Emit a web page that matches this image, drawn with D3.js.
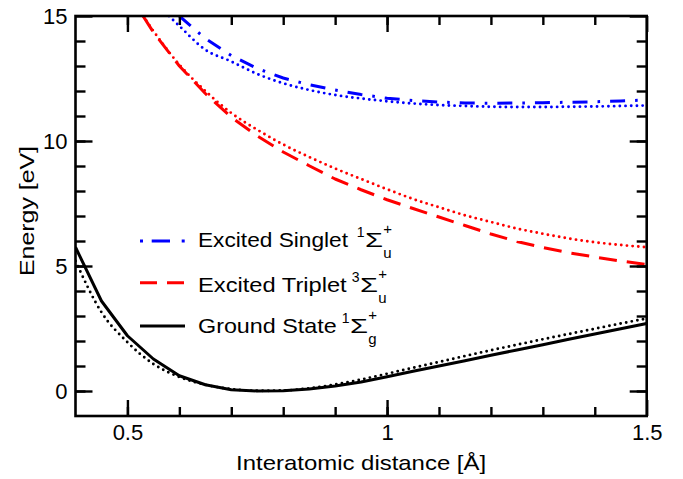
<!DOCTYPE html>
<html>
<head>
<meta charset="utf-8">
<script src="https://cdnjs.cloudflare.com/ajax/libs/d3/7.8.5/d3.min.js"></script>
<style>
  html, body { margin: 0; padding: 0; background: #fff; }
  svg { display: block; font-family: "Liberation Sans", Arial, Helvetica, sans-serif; }
</style>
</head>
<body>
<svg id="chart" width="683" height="479"></svg>
<script>
// ---------------- data ----------------
const groundX      = [0.40,0.45,0.50,0.55,0.60,0.65,0.70,0.75,0.80,0.85,0.90,0.95,1.00,1.05,1.10,1.15,1.20,1.25,1.30,1.35,1.40,1.45,1.50];
const groundSolid  = [5.75,3.60,2.21,1.28,0.61,0.25,0.05,0.00,0.01,0.08,0.20,0.36,0.57,0.79,1.00,1.21,1.43,1.64,1.85,2.07,2.28,2.49,2.70];
const groundDotted = [5.20,3.15,1.95,1.08,0.56,0.25,0.08,0.01,0.02,0.11,0.26,0.46,0.69,0.93,1.16,1.40,1.63,1.85,2.07,2.28,2.49,2.70,2.90];

const tripletX      = [0.53,0.55,0.60,0.65,0.70,0.75,0.80,0.85,0.90,0.95,1.00,1.05,1.10,1.15,1.20,1.25,1.30,1.35,1.40,1.45,1.50];
const tripletDashed = [15.0,14.35,13.00,11.90,10.95,10.20,9.56,9.01,8.48,8.05,7.65,7.30,6.96,6.62,6.28,5.98,5.74,5.53,5.36,5.20,5.06];
const tripletDotted = [15.0,14.40,13.05,12.00,11.12,10.45,9.86,9.36,8.90,8.48,8.07,7.68,7.35,7.03,6.76,6.50,6.29,6.10,5.95,5.84,5.75];

const singletDashX   = [0.60,0.65,0.70,0.75,0.80,0.85,0.90,0.95,1.00,1.05,1.10,1.15,1.20,1.25,1.30,1.35,1.40,1.45,1.50];
const singletDashDot = [15.0,14.10,13.42,12.90,12.52,12.25,12.04,11.86,11.71,11.62,11.56,11.52,11.51,11.52,11.53,11.55,11.57,11.60,11.64];
const singletDotX    = [0.58,0.60,0.65,0.70,0.75,0.80,0.85,0.90,0.95,1.00,1.05,1.10,1.15,1.20,1.25,1.30,1.35,1.40,1.45,1.50];
const singletDotted  = [15.0,14.60,13.65,13.18,12.68,12.31,12.04,11.84,11.70,11.59,11.50,11.44,11.40,11.37,11.36,11.36,11.37,11.38,11.40,11.42];

const xMajorTicks = [0.5, 1.0, 1.5];
const xMinorTicks = [0.5,0.6,0.7,0.8,0.9,1.0,1.1,1.2,1.3,1.4];
const yMajorTicks = [0, 5, 10, 15];
const yMinorTicks = [0,1,2,3,4,5,6,7,8,9,10,11,12,13,14];
const xTickLabels = ["0.5", "1", "1.5"];
const yTickLabels = ["0", "5", "10", "15"];

const legendLabels = [
  {main: "Excited Singlet", sup: "1", sub: "u", color: "#0000ff", style: "dashdot"},
  {main: "Excited Triplet", sup: "3", sub: "u", color: "#ff0000", style: "dashed"},
  {main: "Ground State",    sup: "1", sub: "g", color: "#000000", style: "solid"}
];

// ---------------- layout ----------------
const svg = d3.select("#chart");
const L = 75.5, R = 646.7, T = 16, B = 416;
const x = d3.scaleLinear().domain([0.4, 1.5]).range([L, R]);
const y = d3.scaleLinear().domain([-1, 15]).range([B, T]);

svg.append("defs").append("clipPath").attr("id", "plotclip")
  .append("rect").attr("x", L).attr("y", T).attr("width", R - L).attr("height", B - T);

const styles = {
  solid:   {w: 3, dash: null, cap: "butt"},
  dashed:  {w: 3, dash: "18,10", cap: "butt"},
  dashdot: {w: 3, dash: "15,10,2.6,10", cap: "butt"},
  dotted:  {w: 2.9, dash: "0,5.7", cap: "round"}
};

const plot = svg.append("g").attr("clip-path", "url(#plotclip)");

function drawSeries(xs, ys, color, style, curve) {
  const pts = xs.map((v, i) => [v, ys[i]]);
  const line = d3.line().x(d => x(d[0])).y(d => y(d[1])).curve(curve);
  const s = styles[style];
  const p = plot.append("path").datum(pts)
    .attr("d", line)
    .attr("fill", "none")
    .attr("stroke", color)
    .attr("stroke-width", s.w)
    .attr("stroke-linecap", s.cap)
    .attr("stroke-linejoin", "round");
  if (s.dash) p.attr("stroke-dasharray", s.dash);
}

drawSeries(singletDotX, singletDotted, "#0000ff", "dotted", d3.curveMonotoneX);
drawSeries(singletDashX, singletDashDot, "#0000ff", "dashdot", d3.curveLinear);
drawSeries(tripletX, tripletDotted, "#ff0000", "dotted", d3.curveMonotoneX);
drawSeries(tripletX, tripletDashed, "#ff0000", "dashed", d3.curveLinear);
drawSeries(groundX, groundDotted, "#000000", "dotted", d3.curveMonotoneX);
drawSeries(groundX, groundSolid, "#000000", "solid", d3.curveLinear);

// ---------------- axes ----------------
const fs = 21;
function styleAxis(g) {
  g.select(".domain").remove();
  g.selectAll(".tick line").attr("stroke", "#000").attr("stroke-width", 2.4);
  g.selectAll(".tick text").attr("font-size", 22).attr("fill", "#000")
    .attr("font-family", "'Liberation Sans', Arial, Helvetica, sans-serif");
}
// bottom
svg.append("g").attr("transform", `translate(0,${B})`)
  .call(d3.axisBottom(x).tickValues(xMinorTicks).tickSize(-9).tickFormat(""))
  .call(styleAxis);
svg.append("g").attr("transform", `translate(0,${B})`)
  .call(d3.axisBottom(x).tickValues(xMajorTicks).tickSize(-16).tickPadding(8)
    .tickFormat((d, i) => xTickLabels[i]))
  .call(styleAxis);
// top
svg.append("g").attr("transform", `translate(0,${T})`)
  .call(d3.axisTop(x).tickValues(xMinorTicks).tickSize(-9).tickFormat(""))
  .call(styleAxis);
svg.append("g").attr("transform", `translate(0,${T})`)
  .call(d3.axisTop(x).tickValues(xMajorTicks).tickSize(-16).tickFormat(""))
  .call(styleAxis);
// left
svg.append("g").attr("transform", `translate(${L},0)`)
  .call(d3.axisLeft(y).tickValues(yMinorTicks).tickSize(-10).tickFormat(""))
  .call(styleAxis);
svg.append("g").attr("transform", `translate(${L},0)`)
  .call(d3.axisLeft(y).tickValues(yMajorTicks).tickSize(-17).tickPadding(8)
    .tickFormat((d, i) => yTickLabels[i]))
  .call(styleAxis);
// right
svg.append("g").attr("transform", `translate(${R},0)`)
  .call(d3.axisRight(y).tickValues(yMinorTicks).tickSize(-10).tickFormat(""))
  .call(styleAxis);
svg.append("g").attr("transform", `translate(${R},0)`)
  .call(d3.axisRight(y).tickValues(yMajorTicks).tickSize(-17).tickFormat(""))
  .call(styleAxis);

// frame
svg.append("rect").attr("x", L).attr("y", T).attr("width", R - L).attr("height", B - T)
  .attr("fill", "none").attr("stroke", "#000").attr("stroke-width", 2.6);

// axis titles
svg.append("text").attr("x", (L + R) / 2).attr("y", 470)
  .attr("text-anchor", "middle").attr("font-size", fs)
  .attr("textLength", 250).attr("lengthAdjust", "spacingAndGlyphs")
  .text("Interatomic distance [Å]");
svg.append("text").attr("transform", "translate(34,211) rotate(-90)")
  .attr("text-anchor", "middle").attr("font-size", fs)
  .attr("textLength", 130).attr("lengthAdjust", "spacingAndGlyphs")
  .text("Energy [eV]");

// ---------------- legend ----------------
const legBase = [246.7, 291.7, 333.3];
const legLineY = [241, 282.7, 326];
const legMainLen = [150, 148.7, 138.7];
const legSupGap = [8.7, 5, 5];
const legendDash = {dashdot: "3,8.7,18.3,11.7,3,100", dashed: "17,10,17,100", solid: null};
const lx0 = 140, lx1 = 185, tx = 198;

legendLabels.forEach((item, i) => {
  const g = svg.append("g");
  const ln = g.append("line").attr("x1", lx0).attr("x2", lx1)
    .attr("y1", legLineY[i]).attr("y2", legLineY[i])
    .attr("stroke", item.color).attr("stroke-width", 3);
  if (legendDash[item.style]) ln.attr("stroke-dasharray", legendDash[item.style]);
  g.append("text").attr("x", tx).attr("y", legBase[i]).attr("font-size", fs)
    .attr("textLength", legMainLen[i]).attr("lengthAdjust", "spacingAndGlyphs")
    .text(item.main);
  const supX = tx + legMainLen[i] + legSupGap[i];
  g.append("text").attr("x", supX).attr("y", legBase[i] - 10).attr("font-size", 14)
    .text(item.sup);
  const sigX = supX + 8.3;
  g.append("text").attr("x", sigX).attr("y", legBase[i]).attr("font-size", fs)
    .attr("textLength", 18).attr("lengthAdjust", "spacingAndGlyphs")
    .text("Σ");
  g.append("text").attr("x", sigX + 18.3).attr("y", legBase[i] - 13).attr("font-size", 15)
    .text("+");
  g.append("text").attr("x", sigX + 18.3).attr("y", legBase[i] + 11).attr("font-size", 15)
    .text(item.sub);
});
</script>
</body>
</html>
